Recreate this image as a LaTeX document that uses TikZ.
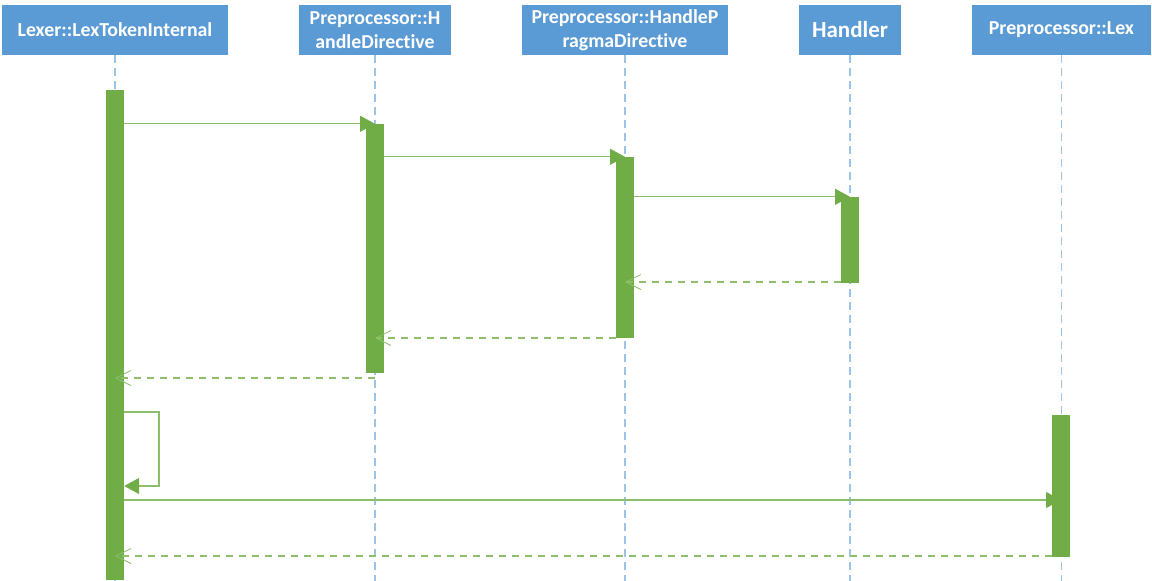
\documentclass[tikz,border=0pt]{standalone}
\usepackage{fontspec}
\setmainfont{Carlito}[Ligatures=NoCommon]
\usetikzlibrary{arrows.meta}
\definecolor{hdr}{HTML}{5B9BD5}
\definecolor{actc}{HTML}{70AD47}
\definecolor{msgc}{HTML}{8DBF6A}
\definecolor{lifec}{HTML}{9DC3E6}
\begin{document}
\begin{tikzpicture}[x=1pt,y=-1pt,
  head/.style={fill=hdr, draw=none, text=white, inner sep=0pt, align=center,
    minimum height=50pt, font=\fontsize{19.8}{23.5}\selectfont\bfseries},
  lifeline/.style={draw=lifec, line width=1.3pt, dash pattern=on 8pt off 5pt},
  actbar/.style={fill=actc, draw=none, inner sep=0pt, minimum width=18pt},
  call/.style={draw=msgc, line width=1.2pt, -{Triangle[length=15pt,width=16pt,color=actc]}},
  ret/.style={draw=msgc, line width=1.2pt, dash pattern=on 7pt off 6pt,
    -{Straight Barb[length=15pt,width=15pt,line width=0.8pt]}}]
\useasboundingbox (0,0) rectangle (1152,581);
% heads
\node[head, minimum width=226pt] (h1) at (115,30) {Lexer::LexTokenInternal};
\node[head, minimum width=152pt] (h2) at (375,30) {Preprocessor::H\\andleDirective};
\node[head, minimum width=206pt] (h3) at (625,30) {Preprocessor::HandleP\\ragmaDirective};
\node[head, minimum width=102pt, font=\fontsize{23}{26}\selectfont\bfseries] (h4) at (850,30) {Handler};
\node[head, minimum width=179pt] (h5) at (1061.5,30) {Preprocessor::Lex};
% lifelines
\foreach \h in {h1,h2,h3,h4,h5}
  \draw[lifeline] (\h.south) -- (\h.south |- 0,581);
% activation bars
\node[actbar, minimum height=490pt] (b1) at (115,335) {};
\node[actbar, minimum height=249pt] (b2) at (375,248.5) {};
\node[actbar, minimum height=181pt] (b3) at (625,247.5) {};
\node[actbar, minimum height=86pt] (b4) at (850,240) {};
\node[actbar, minimum height=142pt] (b5) at (1061,486) {};
% messages
\draw[call] (b1.east |- b2.north) -- (b2.north);
\draw[call] (b2.east |- b3.north) -- (b3.north);
\draw[call] (b3.east |- b4.north) -- (b4.north);
\draw[ret] (b4.west |- 0,282) -- (b3.center |- 0,282);
\draw[ret] (b3.west |- 0,338) -- (b2.center |- 0,338);
\draw[ret] (b2.center |- 0,378) -- (b1.center |- 0,378);
\coordinate (s1) at (159,412);
\coordinate (s2) at (159,486);
\draw[call] (b1.east |- s1) -- (s1) -- (s2) -- (b1.east |- s2);
\draw[call] (b1.east |- 0,500) -- (b5.center |- 0,500);
\draw[ret] (b5.west |- 0,556) -- (b1.center |- 0,556);
\end{tikzpicture}
\end{document}
